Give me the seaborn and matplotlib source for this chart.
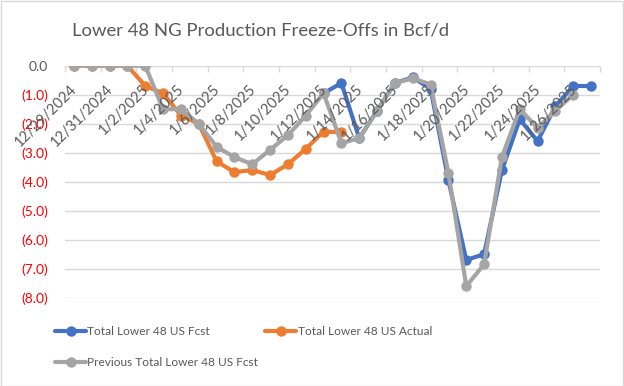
import numpy as np
import pandas as pd
import matplotlib
matplotlib.use("Agg")
import matplotlib.pyplot as plt
import matplotlib.transforms as mtransforms
from matplotlib.patches import Rectangle
import seaborn as sns

nan = np.nan
dates = ["12/29/2024", "12/30/2024", "12/31/2024", "1/1/2025", "1/2/2025", "1/3/2025",
         "1/4/2025", "1/5/2025", "1/6/2025", "1/7/2025", "1/8/2025", "1/9/2025",
         "1/10/2025", "1/11/2025", "1/12/2025", "1/13/2025", "1/14/2025", "1/15/2025",
         "1/16/2025", "1/17/2025", "1/18/2025", "1/19/2025", "1/20/2025", "1/21/2025",
         "1/22/2025", "1/23/2025", "1/24/2025", "1/25/2025", "1/26/2025", "1/27/2025"]

fcst = [nan] * 14 + [-0.95, -0.6, -2.5, -1.55, -0.6, -0.4, -0.8, -3.95, -6.7, -6.5,
                     -3.6, -1.85, -2.6, -1.4, -0.7, -0.7]
actual = [0, 0, 0, 0, -0.7, -0.95, -1.72, -2.0, -3.3, -3.67, -3.6, -3.77, -3.4, -2.87,
          -2.27, -2.3] + [nan] * 14
prev = [0, 0, 0, 0, 0, -1.5, -1.5, -2.0, -2.8, -3.15, -3.4, -2.9, -2.4, -1.72, -0.95,
        -2.67, -2.5, -1.55, -0.6, -0.43, -0.65, -3.7, -7.6, -6.85, -3.15, -1.5, -2.15,
        -1.55, -1.0, nan]

series_names = ["Total Lower 48 US Fcst", "Total Lower 48 US Actual",
                "Previous Total Lower 48 US Fcst"]
colors = ["#4472C4", "#ED7D31", "#A5A5A5"]

sns.set_theme(style="white")
plt.rcParams["font.family"] = ["Lato", "DejaVu Sans"]

W, H = 624, 386
fig = plt.figure(figsize=(W / 100, H / 100), dpi=100)
ax = fig.add_axes([65 / W, 1 - 297.7 / H, (600 - 65) / W, (297.7 - 65.7) / H])

x = np.arange(len(dates))
for name, vals, col in zip(series_names, [fcst, actual, prev], colors):
    df = pd.DataFrame({"x": x, "y": vals}).dropna()
    sns.lineplot(data=df, x="x", y="y", ax=ax, color=col, linewidth=3.0,
                 marker="o", markersize=7.5, markeredgewidth=0, label=name,
                 sort=False, estimator=None)

ax.set_xlim(-0.5, len(dates) - 0.5)
ax.set_ylim(-8, 0)
ax.set_xlabel("")
ax.set_ylabel("")
for s in ax.spines.values():
    s.set_visible(False)

yt = list(range(-8, 1))
ax.set_yticks(yt)
ylabels = [("(%.1f)" % abs(v)) if v < 0 else "%.1f" % v for v in yt]
ax.set_yticklabels(ylabels)
for lab, v in zip(ax.get_yticklabels(), yt):
    lab.set_color("#FF0000" if v < 0 else "#595959")
    lab.set_fontsize(10)
ax.tick_params(axis="y", length=0, pad=12)
ax.yaxis.grid(True, color="#D9D9D9", linewidth=1.0)
ax.set_axisbelow(True)

# x tick marks between categories, at top axis line
ax.set_xticks(np.arange(-0.5, len(dates), 2))
ax.set_xticklabels([])
ax.xaxis.tick_top()
ax.tick_params(axis="x", direction="in", length=4, width=1, color="#D9D9D9")

offset = mtransforms.ScaledTranslation(0.01, -0.21, fig.dpi_scale_trans)
for i in range(0, len(dates), 2):
    ax.text(i, 0, dates[i], transform=ax.transData + offset, rotation=45,
            rotation_mode="anchor", ha="right", va="center", fontsize=10.5,
            color="#595959", zorder=5)

ax.get_legend().remove()
h, l = ax.get_legend_handles_labels()
order = [0, 2, 1]
fig.legend([h[k] for k in order], [l[k] for k in order], ncol=2, loc="upper left",
           bbox_to_anchor=(55 / W, 1 - 326 / H), frameon=False, fontsize=8.6,
           handlelength=2.6, handletextpad=0.1, columnspacing=0.6,
           labelspacing=1.7, borderpad=0, borderaxespad=0, labelcolor="#595959")

fig.text(261 / W, 1 - 31 / H, "Lower 48 NG Production Freeze-Offs in Bcf/d",
         ha="center", va="center", fontsize=13.3, color="#595959")

fig.patches.append(Rectangle((0.5 / W, 0.5 / H), 1 - 1.5 / W, 1 - 1.5 / H,
                             transform=fig.transFigure, fill=False,
                             edgecolor="#D9D9D9", linewidth=1.0))

fig.savefig("out.png", dpi=100)
